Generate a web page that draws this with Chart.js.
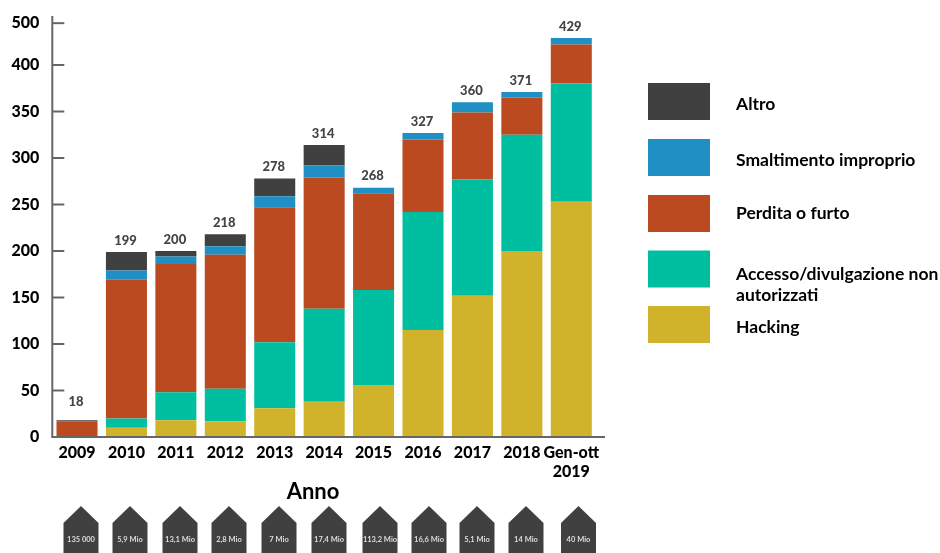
<!DOCTYPE html>
<html lang="it">
<head>
<meta charset="utf-8">
<title>Violazioni per anno</title>
<script src="https://cdn.jsdelivr.net/npm/chart.js@4"></script>
<style>
    html, body { margin: 0; padding: 0; background: #fff; }
    canvas { display: block; }
</style>
</head>
<body>
<canvas id="breachChart" width="940" height="553"></canvas>
<script>
const years = ["2009", "2010", "2011", "2012", "2013", "2014", "2015", "2016", "2017", "2018", ["Gen-ott", "2019"]];
const totals = [18, 199, 200, 218, 278, 314, 268, 327, 360, 371, 429];
const recordsLost = ["135 000", "5,9 Mio", "13,1 Mio", "2,8 Mio", "7 Mio", "17,4 Mio", "113,2 Mio", "16,6 Mio", "5,1 Mio", "14 Mio", "40 Mio"];

const hacking = [0, 10, 18, 17, 31, 38, 56, 115, 152, 200, 253];
const accesso = [0, 10, 30, 35, 71, 100, 102, 127, 125, 125, 127];
const perdita = [17, 149, 138, 144, 145, 141, 104, 78, 72, 40, 42];
const smaltimento = [0, 10, 8, 9, 12, 13, 6, 7, 11, 6, 7];
const altro = [1, 20, 6, 13, 19, 22, 0, 0, 0, 0, 0];

// the top tick is labelled 500 but sits just one step above 400
const yTickValues = [0, 50, 100, 150, 200, 250, 300, 350, 400, 445];
const yTickLabels = ["0", "50", "100", "150", "200", "250", "300", "350", "400", "500"];

const FONT = "Lato, 'Open Sans', sans-serif";
const AXIS_COLOR = "#666666";
const ARROW_COLOR = "#404040";

const colors = {
    hacking: "#d0b32a",
    accesso: "#00bfa0",
    perdita: "#bc4a20",
    smaltimento: "#1f8fc4",
    altro: "#404040",
};

// legend rows, top to bottom
const legendRows = [
    { color: colors.altro, top: 83, lines: [["Altro", 104]] },
    { color: colors.smaltimento, top: 139, lines: [["Smaltimento improprio", 160]] },
    { color: colors.perdita, top: 195, lines: [["Perdita o furto", 213]] },
    { color: colors.accesso, top: 250.5, lines: [["Accesso/divulgazione non", 274], ["autorizzati", 295]] },
    { color: colors.hacking, top: 306, lines: [["Hacking", 327]] },
];

const arrowCentres = [81, 130, 180, 229, 279, 329, 380, 429, 477, 526, 578.5];

const extras = {
    id: "extras",
    afterDatasetsDraw(chart) {
        const c = chart.ctx;
        const x = chart.scales.x;
        const y = chart.scales.y;

        // axis ticks point inwards, baseline runs past the last bar
        c.save();
        c.strokeStyle = AXIS_COLOR;
        c.lineWidth = 2;
        yTickValues.slice(1).forEach(v => {
            const py = y.getPixelForValue(v);
            c.beginPath();
            c.moveTo(x.left, py);
            c.lineTo(x.left + 12, py);
            c.stroke();
        });
        c.beginPath();
        c.moveTo(x.left - 1, y.bottom);
        c.lineTo(x.right + 9, y.bottom);
        c.stroke();
        c.beginPath();
        c.moveTo(x.left, y.top);
        c.lineTo(x.left, y.bottom);
        c.stroke();

        // totals above the stacks
        c.fillStyle = "#444444";
        c.font = "900 13px " + FONT;
        c.textAlign = "center";
        c.textBaseline = "middle";
        totals.forEach((total, i) => {
            const lift = total < 50 ? 18 : 11.5;
            c.fillText(String(total), x.getPixelForValue(i) - 1, y.getPixelForValue(total) - lift);
        });

        c.fillStyle = "#000000";
        c.font = "bold 22px " + FONT;
        c.fillText("Anno", 313, 492);

        // legend
        c.textAlign = "left";
        c.font = "bold 17.5px " + FONT;
        legendRows.forEach(row => {
            c.fillStyle = row.color;
            c.fillRect(648, row.top, 62, 37);
            c.fillStyle = "#000000";
            row.lines.forEach(([text, py]) => c.fillText(text, 736, py));
        });

        // records lost, one arrow per year
        c.textAlign = "center";
        c.font = "bold 7.5px " + FONT;
        recordsLost.forEach((text, i) => {
            const cx = arrowCentres[i];
            c.fillStyle = ARROW_COLOR;
            c.beginPath();
            c.moveTo(cx, 506);
            c.lineTo(cx + 17.5, 523);
            c.lineTo(cx + 17.5, 553);
            c.lineTo(cx - 17.5, 553);
            c.lineTo(cx - 17.5, 523);
            c.closePath();
            c.fill();
            c.fillStyle = "#dddddd";
            c.fillText(text, cx, 540);
        });
        c.restore();
    },
};

const series = [
    { label: "Hacking", data: hacking, backgroundColor: colors.hacking },
    { label: "Accesso/divulgazione non autorizzati", data: accesso, backgroundColor: colors.accesso },
    { label: "Perdita o furto", data: perdita, backgroundColor: colors.perdita },
    { label: "Smaltimento improprio", data: smaltimento, backgroundColor: colors.smaltimento },
    { label: "Altro", data: altro, backgroundColor: colors.altro },
];

new Chart(document.getElementById("breachChart").getContext("2d"), {
    type: "bar",
    data: { labels: years, datasets: series },
    options: {
        responsive: false,
        animation: false,
        layout: { padding: { top: 16, right: 344 } },
        datasets: { bar: { barPercentage: 0.83, categoryPercentage: 1 } },
        plugins: {
            legend: { display: false },
            tooltip: { enabled: false },
        },
        scales: {
            x: {
                stacked: true,
                grid: { display: false, tickLength: 6 },
                border: { display: false },
                afterFit(scale) { scale.height = 116; },
                ticks: {
                    color: "#000000",
                    padding: 0,
                    maxRotation: 0,
                    autoSkip: false,
                    font: { family: FONT, size: 16, weight: "900" },
                },
            },
            y: {
                stacked: true,
                min: 0,
                max: 452.7,
                // tickLength instead of ticks.padding: padding also eats into the plot height
                grid: { display: false, tickLength: 13 },
                border: { display: false },
                afterFit(scale) { scale.width = 52.3; },
                afterBuildTicks(scale) {
                    scale.ticks = yTickValues.map(value => ({ value }));
                },
                ticks: {
                    color: "#000000",
                    padding: 0,
                    autoSkip: false,
                    font: { family: FONT, size: 16, weight: "900" },
                    callback: (value, index) => yTickLabels[index],
                },
            },
        },
    },
    plugins: [extras],
});
</script>
</body>
</html>
